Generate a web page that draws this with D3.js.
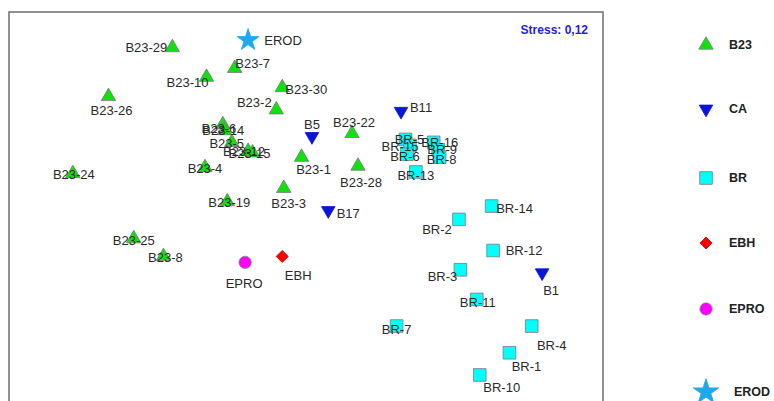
<!DOCTYPE html>
<html>
<head>
<meta charset="utf-8">
<script src="https://cdn.jsdelivr.net/npm/d3@7"></script>
<style>
  body { margin: 0; background: #fff; }
  svg { display: block; font-family: "Liberation Sans", Arial, sans-serif; }
</style>
</head>
<body>
<svg id="mds" width="774" height="401"></svg>
<script>
// MDS coordinates
const b23Names = ["B23-29","B23-7","B23-10","B23-26","B23-30","B23-2","B23-6","B23-14","B23-5","B23-12",
                  "B23-15","B23-4","B23-24","B23-1","B23-22","B23-28","B23-3","B23-19","B23-25","B23-8"];
const b23X = [-0.90,-0.48,-0.67,-1.33,-0.16,-0.20,-0.56,-0.55,-0.50,-0.39,-0.36,-0.68,-1.57,-0.03,0.31,0.35,-0.15,-0.53,-1.16,-0.96];
const b23Y = [1.11,0.97,0.91,0.78,0.84,0.69,0.59,0.55,0.47,0.41,0.40,0.30,0.26,0.37,0.53,0.31,0.16,0.07,-0.18,-0.30];

const caNames = ["B11","B5","B17","B1"];
const caX = [0.64,0.04,0.15,1.59];
const caY = [0.68,0.51,0.01,-0.41];

const brNames = ["BR-5","BR-15","BR-16","BR-9","BR-6","BR-8","BR-13","BR-14","BR-2","BR-12","BR-3","BR-11","BR-7","BR-4","BR-1","BR-10"];
const brX = [0.67,0.70,0.86,0.89,0.68,0.90,0.74,1.25,1.03,1.26,1.04,1.15,0.61,1.52,1.37,1.17];
const brY = [0.49,0.45,0.47,0.42,0.39,0.37,0.27,0.04,-0.05,-0.26,-0.39,-0.59,-0.77,-0.77,-0.95,-1.10];

const ebhX = [-0.16], ebhY = [-0.30];
const eproX = [-0.41], eproY = [-0.34];
const erodX = [-0.39], erodY = [1.16];

const groups = ["B23","CA","BR","EBH","EPRO","EROD"];
const stressLabel = "Stress: 0,12";

// label placement (pixel offsets from the marker)
const labelOffset = {
  "B23-29":[-26,0],"B23-7":[18,-5],"B23-10":[-19,5],"B23-26":[3,14],"B23-30":[24,2],"B23-2":[-22,-7],
  "B23-6":[-4,4],"B23-14":[-1,0],"B23-5":[-5,1],"B23-12":[-4,0],"B23-15":[-3,1],"B23-4":[0,1],
  "B23-24":[1,1],"B23-1":[12,12],"B23-22":[2,-11],"B23-28":[3,16],"B23-3":[5,15],"B23-19":[2,1],
  "B23-25":[0,2],"B23-8":[2,1],
  "B11":[20,-4],"B5":[0,-12],"B17":[20,3],"B1":[9,18],
  "BR-5":[4,0],"BR-15":[-10,1],"BR-16":[6,0],"BR-9":[4,0],"BR-6":[-2,2],"BR-8":[2,2],"BR-13":[0,3],
  "BR-14":[23,2],"BR-2":[-22,10],"BR-12":[31,0],"BR-3":[-18,7],"BR-11":[1,3],"BR-7":[0,3],
  "BR-4":[20,19],"BR-1":[17,14],"BR-10":[22,13],
  "EBH":[16,19],"EPRO":[-1,21],"EROD":[35,0]
};

const style = {
  B23:  { fill: "#10e010", stroke: "#7a7a7a", type: d3.symbolTriangle, size: 90, rot: 0 },
  CA:   { fill: "#0a14d8", stroke: "#0a14d8", type: d3.symbolTriangle, size: 80, rot: 180 },
  BR:   { fill: "#00ffff", stroke: "#7a7a7a", type: d3.symbolSquare, size: 160, rot: 0 },
  EBH:  { fill: "#ff0000", stroke: "#cc0000", type: d3.symbolSquare, size: 72, rot: 45 },
  EPRO: { fill: "#ff00ff", stroke: "#888888", type: d3.symbolCircle, size: 120, rot: 0 },
  EROD: { fill: "#1ea8ee", stroke: "#1ea8ee", type: d3.symbolStar, size: 150, rot: 0 }
};

const points = [];
function addGroup(g, names, xs, ys) {
  xs.forEach((x, i) => points.push({ group: g, name: names[i], x: x, y: ys[i] }));
}
addGroup("B23", b23Names, b23X, b23Y);
addGroup("CA", caNames, caX, caY);
addGroup("BR", brNames, brX, brY);
addGroup("EBH", ["EBH"], ebhX, ebhY);
addGroup("EPRO", ["EPRO"], eproX, eproY);
addGroup("EROD", ["EROD"], erodX, erodY);

const frame = { left: 9, top: 12, right: 603, bottom: 412 };

const x = d3.scaleLinear().domain([-2, 2]).range([frame.left, frame.right]);
const y = d3.scaleLinear().domain([-1.35, 1.35]).range([frame.bottom, frame.top]);

const svg = d3.select("#mds");

svg.append("rect")
  .attr("x", frame.left).attr("y", frame.top)
  .attr("width", frame.right - frame.left).attr("height", frame.bottom - frame.top)
  .attr("fill", "none").attr("stroke", "#6e6e6e").attr("stroke-width", 1.5);

const sym = d => d3.symbol().type(style[d.group].type).size(style[d.group].size)();

// markers
svg.append("g").selectAll("path")
  .data(points)
  .join("path")
  .attr("d", sym)
  .attr("transform", d => `translate(${x(d.x)},${y(d.y)}) rotate(${style[d.group].rot})`)
  .attr("fill", d => style[d.group].fill)
  .attr("stroke", d => style[d.group].stroke)
  .attr("stroke-width", 0.8);

// point labels
svg.append("g").selectAll("text")
  .data(points)
  .join("text")
  .attr("x", d => x(d.x) + labelOffset[d.name][0])
  .attr("y", d => y(d.y) + labelOffset[d.name][1])
  .attr("text-anchor", "middle")
  .attr("dominant-baseline", "central")
  .attr("font-size", 13)
  .attr("fill", "#2a2a2a")
  .text(d => d.name);

svg.append("text")
  .attr("x", 588).attr("y", 30)
  .attr("text-anchor", "end")
  .attr("dominant-baseline", "central")
  .attr("font-size", 12)
  .attr("font-weight", "bold")
  .attr("fill", "#1e1ef0")
  .text(stressLabel);

// legend
const legendY = d3.scalePoint().domain(groups).range([45, 392]);
const legendYs = { B23: 45, CA: 109, BR: 178, EBH: 243, EPRO: 309, EROD: 392 };
const legend = svg.append("g").selectAll("g")
  .data(groups)
  .join("g")
  .attr("transform", g => `translate(706,${legendYs[g] !== undefined ? legendYs[g] : legendY(g)})`);

legend.append("path")
  .attr("d", g => d3.symbol().type(style[g].type).size(g === "EROD" ? 200 : style[g].size)())
  .attr("transform", g => `rotate(${style[g].rot})`)
  .attr("fill", g => style[g].fill)
  .attr("stroke", g => style[g].stroke)
  .attr("stroke-width", 0.8);

legend.append("text")
  .attr("x", g => g === "EROD" ? 28 : 23)
  .attr("dominant-baseline", "central")
  .attr("font-size", 12.5)
  .attr("font-weight", "bold")
  .attr("fill", "#222")
  .text(g => g);
</script>
</body>
</html>
